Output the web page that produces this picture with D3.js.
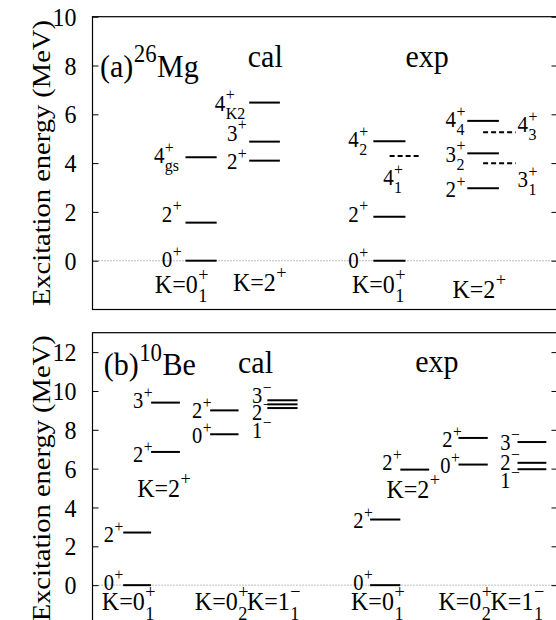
<!DOCTYPE html>
<html><head><meta charset="utf-8">
<script src="https://cdn.jsdelivr.net/npm/d3@7"></script>
<style>
body{margin:0;background:#fff}
svg{display:block}
text{font-family:"Liberation Serif","Times New Roman",serif;fill:#000}
</style>
</head><body>
<script>
// ---------------- data ----------------
// 26Mg (MeV)
const mgCalK0 = [0, 1.56, 4.24];
const mgCalK2 = [4.10, 4.88, 6.48];
const mgExpK0 = [0, 1.80, 4.90];
const mgExpK0Dashed = [4.29];
const mgExpK2 = [2.97, 4.40, 5.73];
const mgExpK2Dashed = [3.99, 5.26];
const mgTicks = [0, 2, 4, 6, 8, 10];
// 10Be (MeV)
const beCalK01 = [0, 2.71];
const beCalK2 = [6.86, 9.40];
const beCalK02 = [7.77, 9.00];
const beCalK1m = [9.12, 9.31, 9.52];
const beExpK01 = [0, 3.38];
const beExpK2 = [5.95];
const beExpK02 = [6.21, 7.58];
const beExpK1m = [5.97, 6.30, 7.37];
const beTicks = [0, 2, 4, 6, 8, 10, 12];
const yTitle = "Excitation energy (MeV)";

// labels (x in column units 0..10, e in MeV)
const mgAnno = [
 {t:"(a)", sup:"26", tail:"Mg", x:0.16, e:7.52, k:"title"},
 {t:"cal", x:3.34, e:7.94, k:"title"},
 {t:"exp", x:6.73, e:7.94, k:"title"},
 {t:"4", sup:"+", sub:"gs", x:1.32, e:4.00},
 {t:"2", sup:"+", x:1.49, e:1.59},
 {t:"0", sup:"+", x:1.49, e:-0.26},
 {t:"4", sup:"+", sub:"K2", x:2.63, e:6.14},
 {t:"3", sup:"+", x:2.89, e:4.91},
 {t:"2", sup:"+", x:2.89, e:3.76},
 {t:"4", sup:"+", sub:"2", x:5.50, e:4.66},
 {t:"2", sup:"+", x:5.50, e:1.59},
 {t:"0", sup:"+", x:5.50, e:-0.30},
 {t:"4", sup:"+", sub:"1", x:6.25, e:3.10},
 {t:"4", sup:"+", sub:"4", x:7.59, e:5.48},
 {t:"4", sup:"+", sub:"3", x:9.14, e:5.27},
 {t:"3", sup:"+", sub:"2", x:7.59, e:4.05},
 {t:"2", sup:"+", x:7.59, e:2.61},
 {t:"3", sup:"+", sub:"1", x:9.14, e:3.02},
 {t:"K=0", sup:"+", sub:"1", x:1.34, e:-1.32, k:"band"},
 {t:"K=2", sup:"+", x:3.02, e:-1.24, k:"band"},
 {t:"K=0", sup:"+", sub:"1", x:5.58, e:-1.32, k:"band"},
 {t:"K=2", sup:"+", x:7.74, e:-1.53, k:"band"}
];
const beAnno = [
 {t:"(b)", sup:"10", tail:"Be", x:0.24, e:10.8, k:"title"},
 {t:"cal", x:3.13, e:10.9, k:"title"},
 {t:"exp", x:6.94, e:10.96, k:"title"},
 {t:"0", sup:"+", x:0.24, e:-0.25},
 {t:"2", sup:"+", x:0.24, e:2.22},
 {t:"K=0", sup:"+", sub:"1", x:0.20, e:-1.29, k:"band"},
 {t:"2", sup:"+", x:0.87, e:6.33},
 {t:"3", sup:"+", x:0.87, e:9.11},
 {t:"K=2", sup:"+", x:0.96, e:4.53, k:"band"},
 {t:"2", sup:"+", x:2.14, e:8.59},
 {t:"0", sup:"+", x:2.14, e:7.31},
 {t:"K=0", sup:"+", sub:"2", x:2.20, e:-1.29, k:"band"},
 {t:"K=1", sup:"\u2212", sub:"1", x:3.32, e:-1.29, k:"band"},
 {t:"3", sup:"\u2212", x:3.43, e:9.36},
 {t:"2", sup:"\u2212", x:3.43, e:8.49},
 {t:"1", sup:"\u2212", x:3.43, e:7.56},
 {t:"0", sup:"+", x:5.61, e:-0.25},
 {t:"2", sup:"+", x:5.61, e:2.94},
 {t:"K=0", sup:"+", sub:"1", x:5.56, e:-1.29, k:"band"},
 {t:"K=0", sup:"+", sub:"2", x:7.44, e:-1.29, k:"band"},
 {t:"K=1", sup:"\u2212", sub:"1", x:8.56, e:-1.29, k:"band"},
 {t:"2", sup:"+", x:6.23, e:5.92},
 {t:"K=2", sup:"+", x:6.32, e:4.48, k:"band"},
 {t:"0", sup:"+", x:7.48, e:5.76},
 {t:"2", sup:"+", x:7.52, e:7.09},
 {t:"3", sup:"\u2212", x:8.77, e:6.95},
 {t:"2", sup:"\u2212", x:8.77, e:5.92},
 {t:"1", sup:"\u2212", x:8.77, e:4.99}
];

// ---------------- layout ----------------
const W = 556, H = 620, L = 92.5, R = 557.5, SY = 1.08;
const svg = d3.select("body").append("svg").attr("width", W).attr("height", H);

const panels = [
 {domain:[-2,10], top:16.7, bottom:309.5, ticks:mgTicks, anno:mgAnno, lvl:21,
  bands:[
   {lv:mgCalK0, x1:2.00, x2:2.67},
   {lv:mgCalK2, x1:3.37, x2:4.03},
   {lv:mgExpK0, x1:6.04, x2:6.73},
   {lv:mgExpK0Dashed, x1:6.39, x2:7.06, dashed:true},
   {lv:mgExpK2, x1:8.06, x2:8.74},
   {lv:mgExpK2Dashed, x1:8.40, x2:9.10, dashed:true}
  ]},
 {domain:[-2,13], top:332.7, bottom:624, ticks:beTicks, anno:beAnno, lvl:20.5,
  bands:[
   {lv:beCalK01, x1:0.66, x2:1.26},
   {lv:beCalK2, x1:1.26, x2:1.88},
   {lv:beCalK02, x1:2.53, x2:3.14},
   {lv:beCalK1m, x1:3.76, x2:4.41},
   {lv:beExpK01, x1:5.97, x2:6.62},
   {lv:beExpK2, x1:6.62, x2:7.24},
   {lv:beExpK02, x1:7.87, x2:8.50},
   {lv:beExpK1m, x1:9.14, x2:9.76}
  ]}
];

function label(g, px, py, a, size) {
  const grp = g.append("g").attr("transform", `translate(${px},${py}) scale(1,${SY})`);
  const b = grp.append("text").attr("font-size", size).text(a.t);
  const w = b.node().getComputedTextLength();
  const ss = size * 0.76;
  let w2 = 0;
  if (a.sup) {
    const s = grp.append("text").attr("x", w + 0.5).attr("y", -0.46 * size).attr("font-size", ss).text(a.sup);
    w2 = Math.max(w2, s.node().getComputedTextLength());
  }
  if (a.sub) {
    const s = grp.append("text").attr("x", w + 0.5).attr("y", 0.36 * size).attr("font-size", ss).text(a.sub);
    w2 = Math.max(w2, s.node().getComputedTextLength());
  }
  if (a.tail) grp.append("text").attr("x", w + w2 + 1).attr("font-size", size).text(a.tail);
}

panels.forEach(p => {
  const x = d3.scaleLinear().domain([0, 10]).range([L, R]);
  const y = d3.scaleLinear().domain(p.domain).range([p.bottom, p.top]);
  const g = svg.append("g");

  // zero reference line
  g.append("line").attr("x1", L).attr("x2", R).attr("y1", y(0)).attr("y2", y(0))
    .attr("stroke", "#808080").attr("stroke-width", 1).attr("stroke-dasharray", "1,2");

  // levels
  p.bands.forEach(b => {
    g.selectAll(null).data(b.lv).join("line")
      .attr("x1", x(b.x1)).attr("x2", x(b.x2))
      .attr("y1", d => y(d)).attr("y2", d => y(d))
      .attr("stroke", "#000").attr("stroke-width", 2)
      .attr("stroke-dasharray", b.dashed ? "5,3" : null);
  });

  // axes
  const ax = g.append("g").attr("transform", `translate(${L},0)`)
    .call(d3.axisLeft(y).tickValues(p.ticks).tickSizeInner(-6).tickSizeOuter(0).tickPadding(16));
  ax.select(".domain").remove();
  ax.attr("font-family", null).attr("font-size", null);
  ax.selectAll("text").attr("font-size", 24).attr("fill", "#000")
    .attr("dy", null).attr("y", 8).attr("transform", `scale(1,${SY})`);
  ax.selectAll("line").attr("stroke", "#000");
  const axr = g.append("g").attr("transform", `translate(${R},0)`)
    .call(d3.axisRight(y).tickValues(p.ticks).tickSizeInner(-6).tickSizeOuter(0).tickFormat(""));
  axr.select(".domain").remove();
  axr.selectAll("line").attr("stroke", "#000");

  // frame
  g.append("rect").attr("x", L).attr("y", p.top).attr("width", R - L).attr("height", p.bottom - p.top)
    .attr("fill", "none").attr("stroke", "#000").attr("stroke-width", 1.2);

  // y title
  const cy = (p.top + p.bottom) / 2;
  g.append("text").attr("transform", `translate(50,${cy}) rotate(-90)`)
    .attr("text-anchor", "middle").attr("font-size", 25)
    .attr("textLength", 286).attr("lengthAdjust", "spacingAndGlyphs").text(yTitle);

  // annotations
  p.anno.forEach(a => {
    const size = a.k === "title" ? 30 : a.k === "band" ? 24 : p.lvl;
    label(g, x(a.x), y(a.e), a, size);
  });
});
</script>
</body></html>
